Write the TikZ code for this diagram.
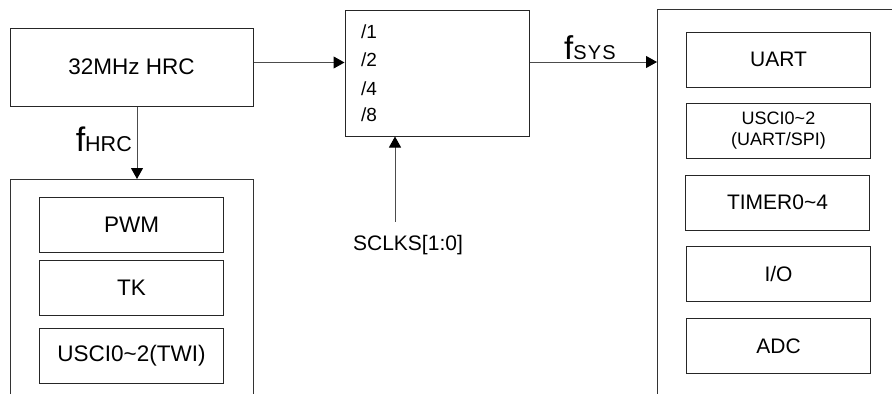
\documentclass[tikz,border=0pt]{standalone}
\usepackage{fontspec}
\setmainfont{Liberation Sans}
\usetikzlibrary{arrows.meta}
\newcommand{\tld}{\char"007E\relax}
\tikzset{
  blk/.style={draw=black!85, line width=1pt, inner sep=0pt, minimum width=184pt, minimum height=55pt, align=center},
  conn/.style={draw=black!70, line width=1pt, -{Triangle[length=11pt,width=12pt,color=black]}},
  frame/.style={draw=black!80, line width=1pt},
  bigtxt/.style={font=\fontsize{22.5}{26}\selectfont},
  midtxt/.style={font=\fontsize{21}{25}\selectfont},
}
\begin{document}
\begin{tikzpicture}[x=1pt,y=-1pt]
\useasboundingbox (0,0) rectangle (892,394);
% HRC
\node[blk, bigtxt, minimum width=243pt, minimum height=78pt] (hrc) at (131.5,67) {32MHz HRC};
% left frame
\coordinate (lt) at (137,179);
\draw[frame] (10,394) -- (10,179) -- (253,179) -- (253,394);
\node[blk, bigtxt] (pwm) at (131.5,224.8) {PWM};
\node[blk, bigtxt] (tk) at (131.5,287.5) {TK};
\node[blk, bigtxt] (usci) at (131.5,355.8) {USCI0\tld2(TWI)};
\draw[conn] (hrc.south -| lt) -- (lt);
\node[anchor=base east, inner sep=0pt] (fhrc) at (132,151) {{\fontsize{34}{34}\selectfont f}{\fontsize{21.5}{22}\selectfont HRC}};
% divider
\node[draw=black!85, line width=1pt, minimum width=184pt, minimum height=126pt, inner sep=0pt] (div) at (437,73) {};
\node[anchor=base west, inner sep=0pt, font=\fontsize{19}{22}\selectfont] (d1) at (361,38.3) {/1};
\node[anchor=base west, inner sep=0pt, font=\fontsize{19}{22}\selectfont] (d2) at (361,66.7) {/2};
\node[anchor=base west, inner sep=0pt, font=\fontsize{19}{22}\selectfont] (d3) at (361,95) {/4};
\node[anchor=base west, inner sep=0pt, font=\fontsize{19}{22}\selectfont] (d4) at (361,121.7) {/8};
\coordinate (hy) at (0,62.5);
\draw[conn] (hrc.east |- hy) -- (div.west |- hy);
% right frame
\coordinate (rl) at (657,62);
\draw[frame] (892,9) -- (657,9) -- (657,394);
\draw[conn] (div.east |- rl) -- (rl);
\node[anchor=base west, inner sep=0pt] (fsys) at (564,59.3) {{\fontsize{33}{33}\selectfont f}{\fontsize{20}{22}\selectfont\addfontfeature{LetterSpace=6}SYS}};
% SCLKS
\node[anchor=base, inner sep=0pt, font=\fontsize{21}{24}\selectfont] (sclks) at (408,250) {SCLKS[1:0]};
\coordinate (sb) at (395,221.7);
\draw[conn] (sb) -- (sb |- div.south);
% right blocks
\node[blk, midtxt] (uart) at (778.5,59.8) {UART};
\node[blk, font=\fontsize{18}{21}\selectfont] (usci2) at (778.5,130.5) {USCI0\tld2\\(UART/SPI)};
\node[blk, midtxt] (timer) at (777.5,202.5) {TIMER0\tld4};
\node[blk, midtxt] (io) at (778.5,274.2) {I/O};
\node[blk, midtxt] (adc) at (778.5,345.8) {ADC};
\end{tikzpicture}
\end{document}
